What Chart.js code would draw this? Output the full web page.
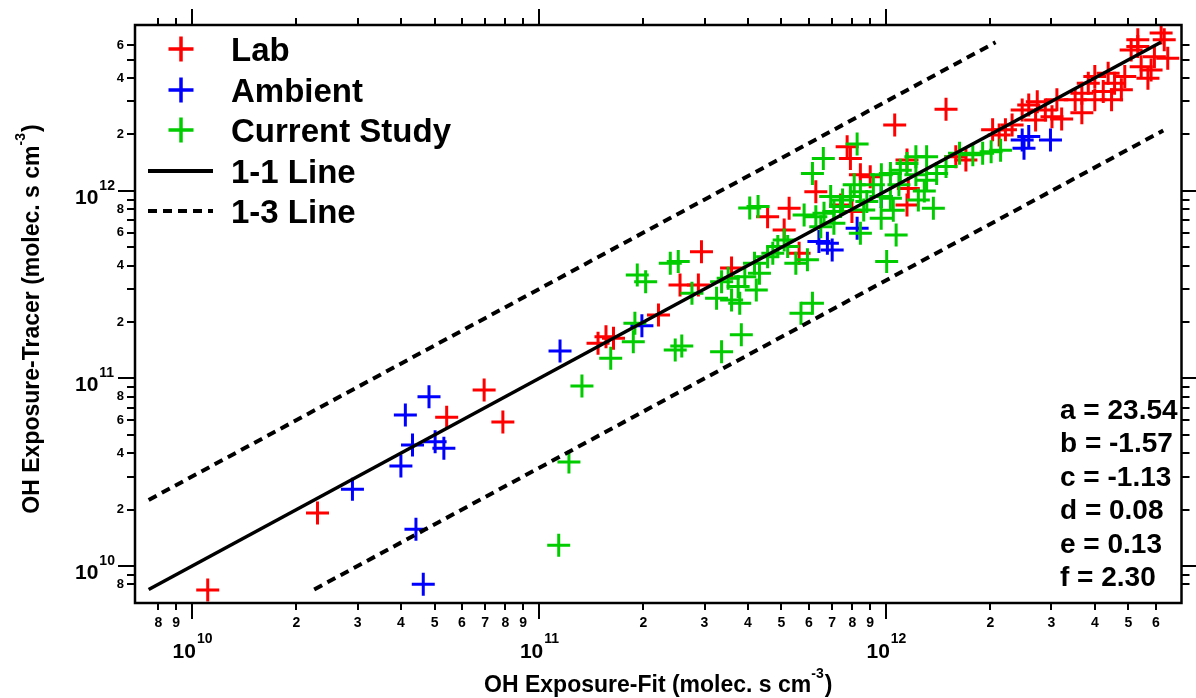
<!DOCTYPE html>
<html><head><meta charset="utf-8">
<script src="https://cdn.jsdelivr.net/npm/chart.js@4.4.0/dist/chart.umd.min.js"></script>
<style>html,body{margin:0;padding:0;background:#fff;}canvas{display:block;}</style>
</head><body>
<canvas id="c" width="1196" height="698"></canvas>
<script>
// ---- Data ----
const labX = [1.11e10,2.30e10,5.42e10,6.95e10,7.87e10,1.48e11,1.56e11,1.64e11,2.21e11,2.55e11,2.88e11,2.94e11,3.59e11,4.56e11,5.26e11,5.09e11,5.62e11,6.28e11,7.73e11,7.90e11,8.44e11,9.01e11,7.40e11,7.98e11,1.06e12,1.49e12,1.16e12,1.15e12,1.15e12,1.59e12,1.70e12,2.12e12,2.21e12,2.03e12,2.47e12,2.58e12,2.73e12,2.88e12,3.01e12,2.70e12,3.51e12,3.67e12,3.83e12,4.00e12,4.23e12,4.37e12,4.56e12,4.77e12,4.47e12,4.88e12,5.09e12,5.32e12,5.44e12,5.69e12,5.81e12,5.94e12,6.34e12,6.49e12,5.32e12,6.21e12,2.31e12,3.21e12,3.11e12,3.67e12,4.00e12];
const labY = [7.45e9,1.92e10,6.21e10,8.68e10,5.86e10,1.54e11,1.67e11,1.64e11,2.18e11,3.15e11,3.15e11,4.74e11,3.88e11,7.29e11,8.09e11,6.19e11,4.65e11,9.90e11,1.72e12,1.49e12,1.22e12,1.19e12,8.42e11,7.76e11,2.25e12,2.73e12,1.03e12,8.42e11,1.46e12,1.52e12,1.46e12,1.99e12,2.12e12,2.12e12,2.70e12,2.87e12,2.99e12,2.70e12,2.49e12,2.39e12,3.06e12,3.32e12,3.75e12,4.07e12,3.39e12,4.24e12,3.75e12,3.46e12,3.06e12,4.07e12,5.65e12,5.89e12,4.60e12,3.99e12,4.42e12,5.20e12,6.39e12,5.10e12,6.39e12,6.96e12,2.25e12,2.42e12,3.06e12,2.61e12,3.06e12];

const ambX = [2.90e10,4.00e10,4.32e10,4.12e10,4.82e10,5.02e10,5.32e10,4.42e10,4.64e10,1.15e11,1.98e11,6.41e11,6.78e11,7.00e11,8.26e11,9.69e11,2.47e12,2.50e12,2.58e12,2.98e12];
const ambY = [2.57e10,3.41e10,4.42e10,6.38e10,8.00e10,4.60e10,4.25e10,1.57e10,8.00e9,1.40e11,1.91e11,5.37e11,5.26e11,4.84e11,6.32e11,9.33e11,1.87e12,1.69e12,1.95e12,1.87e12];

const curX = [1.14e11,1.22e11,1.33e11,1.61e11,1.87e11,1.89e11,2.47e11,2.58e11,3.36e11,3.83e11,1.92e11,2.03e11,2.39e11,2.52e11,2.76e11,3.36e11,3.25e11,3.59e11,3.51e11,3.79e11,3.92e11,4.23e11,4.18e11,4.32e11,4.28e11,4.05e11,4.72e11,4.88e11,5.09e11,5.21e11,4.56e11,5.50e11,5.94e11,6.14e11,5.69e11,5.81e11,6.28e11,6.63e11,7.08e11,7.40e11,7.90e11,8.44e11,8.81e11,9.69e11,1.03e12,8.63e11,6.49e11,7.08e11,8.44e11,9.69e11,1.07e12,1.005e12,6.60e11,6.14e11,8.26e11,6.93e11,1.03e12,1.10e12,1.15e12,1.22e12,1.31e12,1.37e12,1.40e12,1.49e12,1.63e12,1.78e12,1.90e12,2.01e12,2.14e12,1.31e12,1.22e12,3.75e11,1.29e12,9.2e11,1.09e12,9.7e11,8.1e11,7.5e11,1.05e12,1.24e12];
const curY = [1.29e10,3.59e10,9.12e10,1.28e11,1.57e11,1.97e11,1.42e11,1.49e11,1.39e11,1.71e11,3.56e11,3.28e11,4.11e11,4.20e11,2.85e11,3.28e11,2.68e11,2.62e11,3.42e11,2.52e11,3.49e11,2.96e11,4.11e11,3.64e11,8.25e11,8.12e11,4.65e11,5.05e11,5.48e11,5.05e11,4.46e11,4.11e11,4.29e11,2.52e11,2.23e11,7.45e11,7.29e11,7.60e11,7.76e11,8.25e11,9.33e11,9.90e11,8.77e11,9.33e11,9.14e11,7.92e11,6.45e11,6.73e11,5.95e11,7.15e11,5.82e11,4.20e11,1.49e12,1.24e12,1.78e12,9.33e11,1.24e12,1.29e12,1.40e12,1.52e12,1.14e12,8.09e11,1.24e12,1.35e12,1.59e12,1.56e12,1.59e12,1.62e12,1.65e12,1.52e12,1.22e12,3.09e11,1.00e12,1.08e12,1.08e12,1.22e12,1.08e12,8.95e11,7.90e11,8.95e11];

const oneOneX = [7.5e9, 6.2e12];
const oneOneY = [7.5e9, 6.2e12];
const upperX = [7.5e9, 2.07e12];
const upperY = [2.25e10, 6.2e12];
const lowerX = [2.25e10, 6.3e12];
const lowerY = [7.5e9, 2.1e12];

const xTickValues = [8e9,9e9,1e10,2e10,3e10,4e10,5e10,6e10,7e10,8e10,9e10,1e11,2e11,3e11,4e11,5e11,6e11,7e11,8e11,9e11,1e12,2e12,3e12,4e12,5e12,6e12];
const yTickValues = [8e9,9e9,1e10,2e10,3e10,4e10,5e10,6e10,7e10,8e10,9e10,1e11,2e11,3e11,4e11,5e11,6e11,7e11,8e11,9e11,1e12,2e12,3e12,4e12,5e12,6e12];
const yLabelMantissas = [2,4,6,8];
const fitLines = ['a = 23.54','b = -1.57','c = -1.13','d = 0.08','e = 0.13','f = 2.30'];
const xTitle = ['OH Exposure-Fit (molec. s cm', '-3', ')'];
const yTitle = ['OH Exposure-Tracer (molec. s cm', '-3', ')'];

const RED = '#ff0000', BLUE = '#0000ff', GREEN = '#00cc00';
const FONT = '"Liberation Sans", Arial, sans-serif';

function pts(xs, ys){ return xs.map((x,i)=>({x:x, y:ys[i]})); }
function mant(v){ const e = Math.floor(Math.log10(v) + 1e-9); return Math.round(v / Math.pow(10, e)); }
function expo(v){ return Math.floor(Math.log10(v) + 1e-9); }

const crossDs = (label, xs, ys, color, order) => ({
  type:'scatter', label, data: pts(xs, ys), order,
  pointStyle:'cross', pointRadius:11.5, pointBorderWidth:3,
  borderColor: color, backgroundColor: color, pointBorderColor: color, showLine:false
});
const lineDs = (label, xs, ys, dash) => ({
  type:'line', label, data: pts(xs, ys), order:0,
  borderColor:'#000', borderWidth: dash ? 4 : 3.5, borderDash: dash ? [9,6] : [],
  pointRadius:0, fill:false, tension:0
});

const decor = {
  id:'decor',
  afterDraw(chart){
    const ctx = chart.ctx, a = chart.chartArea, xs = chart.scales.x, ys = chart.scales.y;
    ctx.save();
    ctx.strokeStyle = '#000'; ctx.fillStyle = '#000';
    // frame
    ctx.lineWidth = 2.5;
    ctx.strokeRect(a.left, a.top, a.right - a.left, a.bottom - a.top);
    // ticks
    ctx.lineWidth = 2;
    ctx.beginPath();
    xTickValues.forEach(v => {
      const p = Math.round(xs.getPixelForValue(v)) + 0.0;
      const major = mant(v) === 1;
      const L = major ? 16 : 7;
      ctx.moveTo(p, a.bottom); ctx.lineTo(p, a.bottom + L);
      ctx.moveTo(p, a.top); ctx.lineTo(p, a.top - L);
    });
    yTickValues.forEach(v => {
      const p = Math.round(ys.getPixelForValue(v));
      const major = mant(v) === 1;
      const L = major ? 17 : 8;
      ctx.moveTo(a.left, p); ctx.lineTo(a.left - L, p);
      ctx.moveTo(a.right, p); ctx.lineTo(a.right + L, p);
    });
    ctx.stroke();
    // major labels 10^n
    xTickValues.filter(v => mant(v) === 1).forEach(v => {
      const p = xs.getPixelForValue(v);
      ctx.font = 'bold 21px ' + FONT; const w1 = ctx.measureText('10').width;
      ctx.font = 'bold 14px ' + FONT; const es = String(expo(v)); const w2 = ctx.measureText(es).width;
      const s = p - (w1 + w2) / 2;
      ctx.textAlign = 'left'; ctx.textBaseline = 'alphabetic';
      ctx.font = 'bold 21px ' + FONT; ctx.fillText('10', s, 658);
      ctx.font = 'bold 14px ' + FONT; ctx.fillText(es, s + w1 + 1, 643);
    });
    yTickValues.filter(v => mant(v) === 1).forEach(v => {
      const p = ys.getPixelForValue(v);
      const es = String(expo(v));
      ctx.textAlign = 'left'; ctx.textBaseline = 'alphabetic';
      ctx.font = 'bold 21px ' + FONT; const w1 = ctx.measureText('10').width;
      ctx.fillText('10', 75, p + 13);
      ctx.font = 'bold 14px ' + FONT; ctx.fillText(es, 75 + w1 + 1, p - 1);
    });
    // axis titles
    function titleWidth(parts){
      ctx.font = 'bold 23px ' + FONT; let w = ctx.measureText(parts[0]).width + ctx.measureText(parts[2]).width;
      ctx.font = 'bold 14px ' + FONT; w += ctx.measureText(parts[1]).width + 1;
      return w;
    }
    function drawTitle(parts, x0, y0){
      ctx.textAlign = 'left'; ctx.textBaseline = 'alphabetic';
      ctx.font = 'bold 23px ' + FONT; ctx.fillText(parts[0], x0, y0);
      let x = x0 + ctx.measureText(parts[0]).width;
      ctx.font = 'bold 14px ' + FONT; ctx.fillText(parts[1], x, y0 - 14);
      x += ctx.measureText(parts[1]).width + 1;
      ctx.font = 'bold 23px ' + FONT; ctx.fillText(parts[2], x, y0);
    }
    const cx = (a.left + a.right) / 2;
    drawTitle(xTitle, cx - titleWidth(xTitle) / 2, 692);
    ctx.save();
    ctx.translate(39, 319); ctx.rotate(-Math.PI / 2);
    drawTitle(yTitle, -titleWidth(yTitle) / 2, 0);
    ctx.restore();
    // legend
    const ds = chart.data.datasets;
    const legend = [
      {label: ds[0].label, kind:'cross', color: RED},
      {label: ds[1].label, kind:'cross', color: BLUE},
      {label: ds[2].label, kind:'cross', color: GREEN},
      {label: ds[3].label, kind:'solid'},
      {label: ds[4].label, kind:'dash'}
    ];
    const ly = [49, 90, 130, 171, 211];
    legend.forEach((it, i) => {
      const y = ly[i];
      ctx.save();
      if (it.kind === 'cross') {
        ctx.strokeStyle = it.color; ctx.lineWidth = 3.5;
        ctx.beginPath(); ctx.moveTo(181 - 12.5, y); ctx.lineTo(181 + 12.5, y);
        ctx.moveTo(181, y - 12.5); ctx.lineTo(181, y + 12.5); ctx.stroke();
      } else {
        ctx.strokeStyle = '#000'; ctx.lineWidth = it.kind === 'dash' ? 4 : 4;
        ctx.setLineDash(it.kind === 'dash' ? [9,6] : []);
        ctx.beginPath(); ctx.moveTo(148, y); ctx.lineTo(213, y); ctx.stroke();
      }
      ctx.restore();
      ctx.fillStyle = '#000'; ctx.font = 'bold 33px ' + FONT;
      ctx.textAlign = 'left'; ctx.textBaseline = 'alphabetic';
      ctx.fillText(it.label, 231, y + 12);
    });
    // fit parameters
    ctx.font = 'bold 28px ' + FONT;
    fitLines.forEach((t, i) => ctx.fillText(t, 1060, 419 + 33.4 * i));
    ctx.restore();
  }
};

new Chart(document.getElementById('c'), {
  type: 'scatter',
  data: { datasets: [
    crossDs('Lab', labX, labY, RED, 3),
    crossDs('Ambient', ambX, ambY, BLUE, 2),
    crossDs('Current Study', curX, curY, GREEN, 1),
    lineDs('1-1 Line', oneOneX, oneOneY, false),
    lineDs('1-3 Line', upperX, upperY, true),
    lineDs('1-3 Line', lowerX, lowerY, true)
  ]},
  options: {
    responsive: false, animation: false, devicePixelRatio: 1, events: [],
    layout: { padding: { left: 0, top: 25, right: 5, bottom: 0 } },
    plugins: { legend: { display: false }, tooltip: { enabled: false }, title: { display: false } },
    scales: {
      x: {
        type: 'logarithmic', position: 'bottom', min: 6.85e9, max: 7.11e12,
        grid: { display: false, drawTicks: false }, border: { display: false },
        afterBuildTicks: s => { s.ticks = xTickValues.map(v => ({ value: v })); },
        afterFit: s => { s.height = 95; },
        ticks: {
          autoSkip: false, maxRotation: 0, minRotation: 0, padding: 12, color: '#000',
          font: { family: FONT, size: 14, weight: 'bold' },
          callback: v => { const m = mant(v); return m === 1 ? '' : String(m); }
        }
      },
      y: {
        type: 'logarithmic', position: 'left', min: 6.35e9, max: 7.67e12,
        grid: { display: false, drawTicks: false }, border: { display: false },
        afterBuildTicks: s => { s.ticks = yTickValues.map(v => ({ value: v })); },
        afterFit: s => { s.width = 135; },
        ticks: {
          autoSkip: false, padding: 11, color: '#000',
          font: { family: FONT, size: 13, weight: 'bold' },
          callback: v => { const m = mant(v); return yLabelMantissas.includes(m) ? String(m) : ''; }
        }
      }
    }
  },
  plugins: [decor]
});
</script>
</body></html>
